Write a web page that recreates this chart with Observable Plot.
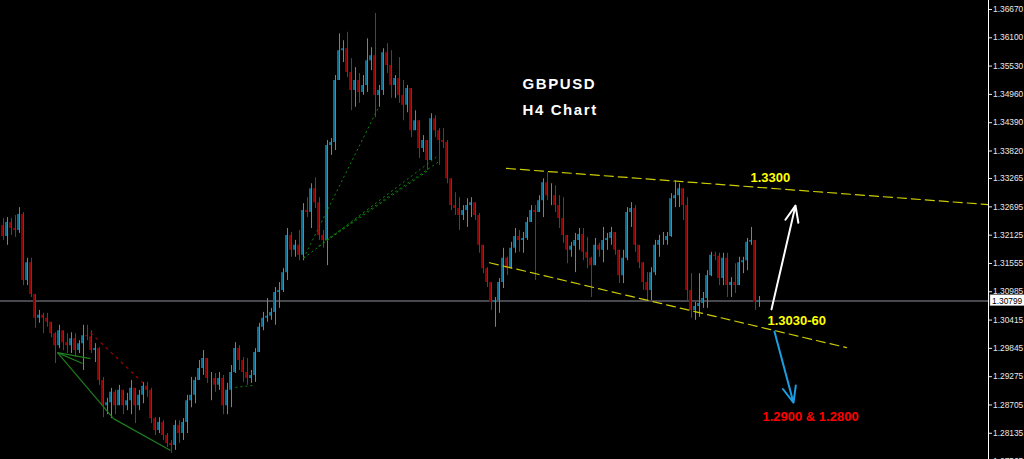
<!DOCTYPE html>
<html><head><meta charset="utf-8">
<script src="https://cdn.jsdelivr.net/npm/d3@7"></script>
<script src="https://cdn.jsdelivr.net/npm/@observablehq/plot@0.6"></script>
<style>
html,body{margin:0;padding:0;background:#000;overflow:hidden;width:1024px;height:459px}
#chart svg{display:block}
</style></head><body><div id="chart"></div>
<script>
// ---- GBPUSD H4 candles (bar index, prices) ----
const firstOpen = 1.3232;
const closes = [
1.3210,1.3238,1.3226,1.3222,1.3254,1.3121,1.3157,1.3093,1.3045,1.3051,
1.3045,1.3037,1.3014,1.2990,1.3020,1.2996,1.2990,1.3004,1.2980,1.2994,
1.3010,1.3008,1.2980,1.2984,1.2920,1.2869,1.2875,1.2896,1.2869,1.2900,
1.2869,1.2879,1.2904,1.2869,1.2890,1.2908,1.2900,1.2843,1.2819,1.2835,
1.2809,1.2793,1.2789,1.2829,1.2813,1.2835,1.2879,1.2890,1.2920,1.2944,
1.2964,1.2924,1.2924,1.2910,1.2924,1.2869,1.2900,1.2936,1.2984,1.2960,
1.2936,1.2924,1.2930,1.2976,1.3027,1.3045,1.3049,1.3057,1.3097,1.3101,
1.3137,1.3212,1.3182,1.3192,1.3172,1.3262,1.3258,1.3306,1.3278,1.3212,
1.3202,1.3393,1.3399,1.3524,1.3584,1.3588,1.3540,1.3504,1.3524,1.3500,
1.3514,1.3564,1.3574,1.3494,1.3504,1.3580,1.3554,1.3514,1.3528,1.3494,
1.3474,1.3508,1.3423,1.3443,1.3387,1.3403,1.3363,1.3447,1.3423,1.3403,
1.3399,1.3326,1.3272,1.3266,1.3252,1.3262,1.3272,1.3278,1.3252,1.3192,
1.3145,1.3117,1.3077,1.3081,1.3117,1.3166,1.3145,1.3186,1.3210,1.3202,
1.3206,1.3238,1.3262,1.3258,1.3282,1.3318,1.3292,1.3292,1.3272,1.3246,
1.3212,1.3182,1.3190,1.3202,1.3214,1.3178,1.3166,1.3151,1.3192,1.3182,
1.3202,1.3206,1.3218,1.3182,1.3131,1.3166,1.3258,1.3266,1.3192,1.3157,
1.3117,1.3101,1.3137,1.3192,1.3202,1.3202,1.3210,1.3286,1.3292,1.3306,
1.3272,1.3101,1.3061,1.3069,1.3075,1.3085,1.3131,1.3172,1.3170,1.3125,
1.3166,1.3111,1.3117,1.3111,1.3157,1.3161,1.3198,1.3202,1.3077,1.30799];
const highs = [
1.3246,1.3248,1.3246,1.3252,1.3268,1.3258,1.3166,1.3166,1.3091,1.3061,
1.3055,1.3055,1.3037,1.3016,1.3031,1.3020,1.3014,1.3016,1.3014,1.3000,
1.3031,1.3031,1.3020,1.2994,1.2986,1.2926,1.2884,1.2904,1.2900,1.2910,
1.2900,1.2894,1.2920,1.2904,1.2900,1.2916,1.2916,1.2904,1.2845,1.2845,
1.2839,1.2813,1.2799,1.2839,1.2839,1.2843,1.2890,1.2926,1.2926,1.2960,
1.2980,1.2964,1.2936,1.2934,1.2936,1.2930,1.2914,1.2950,1.2996,1.2990,
1.2966,1.2964,1.2940,1.2984,1.3035,1.3057,1.3085,1.3065,1.3107,1.3117,
1.3145,1.3226,1.3218,1.3202,1.3222,1.3276,1.3288,1.3316,1.3328,1.3288,
1.3222,1.3403,1.3407,1.3534,1.3618,1.3604,1.3621,1.3568,1.3550,1.3538,
1.3534,1.3608,1.3590,1.3659,1.3514,1.3588,1.3598,1.3584,1.3534,1.3570,
1.3524,1.3514,1.3490,1.3463,1.3429,1.3413,1.3403,1.3457,1.3453,1.3427,
1.3427,1.3403,1.3318,1.3298,1.3288,1.3272,1.3286,1.3288,1.3278,1.3256,
1.3192,1.3147,1.3117,1.3087,1.3125,1.3186,1.3168,1.3198,1.3226,1.3222,
1.3218,1.3248,1.3272,1.3272,1.3292,1.3326,1.3338,1.3316,1.3312,1.3292,
1.3288,1.3202,1.3198,1.3216,1.3226,1.3226,1.3208,1.3168,1.3206,1.3196,
1.3228,1.3216,1.3228,1.3218,1.3172,1.3182,1.3268,1.3278,1.3272,1.3192,
1.3157,1.3137,1.3147,1.3202,1.3212,1.3218,1.3218,1.3296,1.3322,1.3316,
1.3302,1.3288,1.3135,1.3077,1.3135,1.3097,1.3141,1.3178,1.3178,1.3176,
1.3176,1.3176,1.3127,1.3155,1.3168,1.3168,1.3206,1.3228,1.3202,1.3089];
const lows = [
1.3202,1.3192,1.3212,1.3208,1.3216,1.3111,1.3111,1.3087,1.3025,1.3035,
1.3014,1.3027,1.3006,1.2954,1.2984,1.2980,1.2974,1.2974,1.2966,1.2974,
1.2940,1.3000,1.2974,1.2956,1.2910,1.2845,1.2851,1.2843,1.2851,1.2869,
1.2851,1.2859,1.2851,1.2833,1.2859,1.2873,1.2886,1.2833,1.2809,1.2813,
1.2799,1.2785,1.2773,1.2779,1.2793,1.2799,1.2813,1.2865,1.2873,1.2920,
1.2930,1.2914,1.2879,1.2896,1.2900,1.2851,1.2851,1.2865,1.2934,1.2940,
1.2916,1.2910,1.2914,1.2916,1.2976,1.3020,1.3037,1.3041,1.3031,1.3065,
1.3097,1.3121,1.3168,1.3168,1.3161,1.3161,1.3248,1.3226,1.3266,1.3202,
1.3186,1.3151,1.3373,1.3383,1.3524,1.3560,1.3530,1.3463,1.3470,1.3478,
1.3494,1.3500,1.3544,1.3449,1.3470,1.3494,1.3538,1.3488,1.3488,1.3478,
1.3443,1.3459,1.3409,1.3427,1.3367,1.3379,1.3343,1.3363,1.3409,1.3353,
1.3387,1.3316,1.3262,1.3252,1.3222,1.3242,1.3228,1.3248,1.3242,1.3176,
1.3135,1.3107,1.3061,1.3027,1.3055,1.3105,1.3131,1.3147,1.3176,1.3178,
1.3176,1.3202,1.3238,1.3121,1.3258,1.3248,1.3282,1.3272,1.3258,1.3226,
1.3196,1.3155,1.3168,1.3137,1.3182,1.3161,1.3145,1.3087,1.3155,1.3168,
1.3157,1.3182,1.3192,1.3172,1.3115,1.3115,1.3161,1.3228,1.3178,1.3145,
1.3101,1.3077,1.3081,1.3131,1.3168,1.3192,1.3192,1.3208,1.3268,1.3268,
1.3242,1.3081,1.3045,1.3041,1.3047,1.3065,1.3065,1.3129,1.3161,1.3111,
1.3111,1.3087,1.3087,1.3095,1.3121,1.3135,1.3141,1.3192,1.3061,1.3067];

// price axis labels (right scale)
const yTicks = [1.36670,1.36100,1.35530,1.34960,1.34390,1.33820,1.33265,1.32695,1.32125,
  1.31555,1.30985,1.30415,1.29845,1.29275,1.28705,1.28135,1.27565];
const lastPrice = 1.30799;
const priceDomain = [1.27607, 1.36851];
const barDomain = [-0.5, 246.5];

// ---- annotations (bar index, price) ----
const upperChannel = [{i: 126, p: 1.3347}, {i: 246.5, p: 1.3274}];
const lowerChannel = [{i: 121.75, p: 1.3157}, {i: 211, p: 1.2986}];
const greenDotted = [
  {i1: 75.25, p1: 1.3166, i2: 94, p2: 1.3470},
  {i1: 75.25, p1: 1.3166, i2: 109, p2: 1.3373},
  {i1: 79, p1: 1.3190, i2: 106.5, p2: 1.3343},
  {i1: 80.75, p1: 1.3202, i2: 109.5, p2: 1.3363},
  {i1: 58.25, p1: 1.2906, i2: 62.75, p2: 1.2910}];
const greenSolid = [
  {i1: 13.75, p1: 1.2976, i2: 22, p2: 1.2964},
  {i1: 13.75, p1: 1.2976, i2: 20, p2: 1.2954},
  {i1: 13.75, p1: 1.2976, i2: 27.75, p2: 1.2843},
  {i1: 27.75, p1: 1.2843, i2: 42, p2: 1.2779}];
const redDotted = [{i1: 22, p1: 1.3016, i2: 35.25, p2: 1.2914}];
const upArrow = [{i1: 192.25, p1: 1.3063, i2: 198.25, p2: 1.3272}];
const downArrow = [{i1: 193, p1: 1.3018, i2: 197.75, p2: 1.2875}];
const titleNotes = [{i: 130, p: 1.3506, text: "GBPUSD"}, {i: 130, p: 1.3455, text: "H4 Chart"}];
const yellowNotes = [{i: 187, p: 1.3320, text: "1.3300"}, {i: 191.25, p: 1.3031, text: "1.3030-60"}];
const redNotes = [{i: 190, p: 1.2839, text: "1.2900 & 1.2800"}];

const candles = closes.map((c, i) => {
  const o = i ? closes[i - 1] : firstOpen;
  return {i, open: o, close: c,
    high: Math.max(highs[i], o, c), low: Math.min(lows[i], o, c), up: c >= o};
});

const BULL = "#12a2e6", BULL_BODY = "#0b6c92", BEAR = "#ee0000", BEAR_BODY = "#8e0000";
const FONT = "'Liberation Sans', Arial, sans-serif";

const chart = Plot.plot({
  width: 1024, height: 459,
  marginLeft: 0, marginRight: 36, marginTop: 0, marginBottom: 0,
  style: {background: "#000", color: "#e8e8e8", fontFamily: FONT, fontSize: "8.4px"},
  x: {domain: barDomain, axis: null},
  y: {domain: priceDomain, axis: null},
  marks: [
    Plot.ruleY([lastPrice], {stroke: "#60606a", strokeWidth: 1.6}),
    Plot.ruleX(candles, {x: "i", y1: d => Math.min(d.open, d.close), y2: d => Math.max(d.open, d.close),
      stroke: d => d.up ? BULL_BODY : BEAR_BODY, strokeWidth: 2, dx: -0.5}),
    Plot.ruleX(candles, {x: "i", y1: "low", y2: "high", stroke: d => d.up ? BULL : BEAR, strokeWidth: 1, dx: 1}),
    Plot.link(greenDotted, {x1: "i1", y1: "p1", x2: "i2", y2: "p2", stroke: "#0c8a0c", strokeWidth: 1, strokeDasharray: "2,3"}),
    Plot.link(greenSolid, {x1: "i1", y1: "p1", x2: "i2", y2: "p2", stroke: "#1d7d1d", strokeWidth: 1.2}),
    Plot.link(redDotted, {x1: "i1", y1: "p1", x2: "i2", y2: "p2", stroke: "#a00000", strokeWidth: 1.2, strokeDasharray: "3,4"}),
    Plot.line(upperChannel, {x: "i", y: "p", stroke: "#cccc00", strokeWidth: 1.2, strokeDasharray: "9,5", clip: true}),
    Plot.line(lowerChannel, {x: "i", y: "p", stroke: "#cccc00", strokeWidth: 1.2, strokeDasharray: "9,5"}),
    Plot.arrow(upArrow, {x1: "i1", y1: "p1", x2: "i2", y2: "p2", stroke: "#ffffff", strokeWidth: 2, headLength: 13, headAngle: 45}),
    Plot.arrow(downArrow, {x1: "i1", y1: "p1", x2: "i2", y2: "p2", stroke: "#1a9fe2", strokeWidth: 2, headLength: 13, headAngle: 45}),
    Plot.text(titleNotes, {x: "i", y: "p", text: "text", fill: "#ffffff", fontSize: 15, fontWeight: "bold",
      textAnchor: "start", lineAnchor: "bottom", fontFamily: FONT, className: "title-note"}),
    Plot.text(yellowNotes, {x: "i", y: "p", text: "text", fill: "#ffff00", fontSize: 13, fontWeight: "bold",
      textAnchor: "start", lineAnchor: "bottom", fontFamily: FONT}),
    Plot.text(redNotes, {x: "i", y: "p", text: "text", fill: "#ff0000", fontSize: 13, fontWeight: "bold",
      textAnchor: "start", lineAnchor: "bottom", fontFamily: FONT}),
    Plot.frame({anchor: "right", stroke: "#ffffff"}),
    Plot.axisY(yTicks, {anchor: "right", tickFormat: d3.format(".5f"), tickSize: 3, tickPadding: 1.5, color: "#e8e8e8"}),
    Plot.text([lastPrice], {y: d => d, frameAnchor: "right", dx: 3.5, textAnchor: "start", fill: "#000",
      text: d => d3.format(".5f")(d), className: "last-price"})
  ]
});
document.getElementById("chart").appendChild(chart);

// wider letter spacing for the title, as in the reference
d3.select(chart).selectAll("g.title-note text").style("letter-spacing", "1.6px");

// white box behind the current-price label
const lbl = d3.select(chart).select("g.last-price text");
if (!lbl.empty()) {
  const node = lbl.node();
  const b = node.getBBox();
  d3.select(node.parentNode).insert("rect", "text")
    .attr("transform", node.getAttribute("transform"))
    .attr("x", b.x - 2).attr("y", b.y - 1).attr("width", b.width + 8).attr("height", b.height + 1)
    .attr("fill", "#fff").attr("stroke", "#888").attr("stroke-width", 0.5);
}
</script></body></html>
